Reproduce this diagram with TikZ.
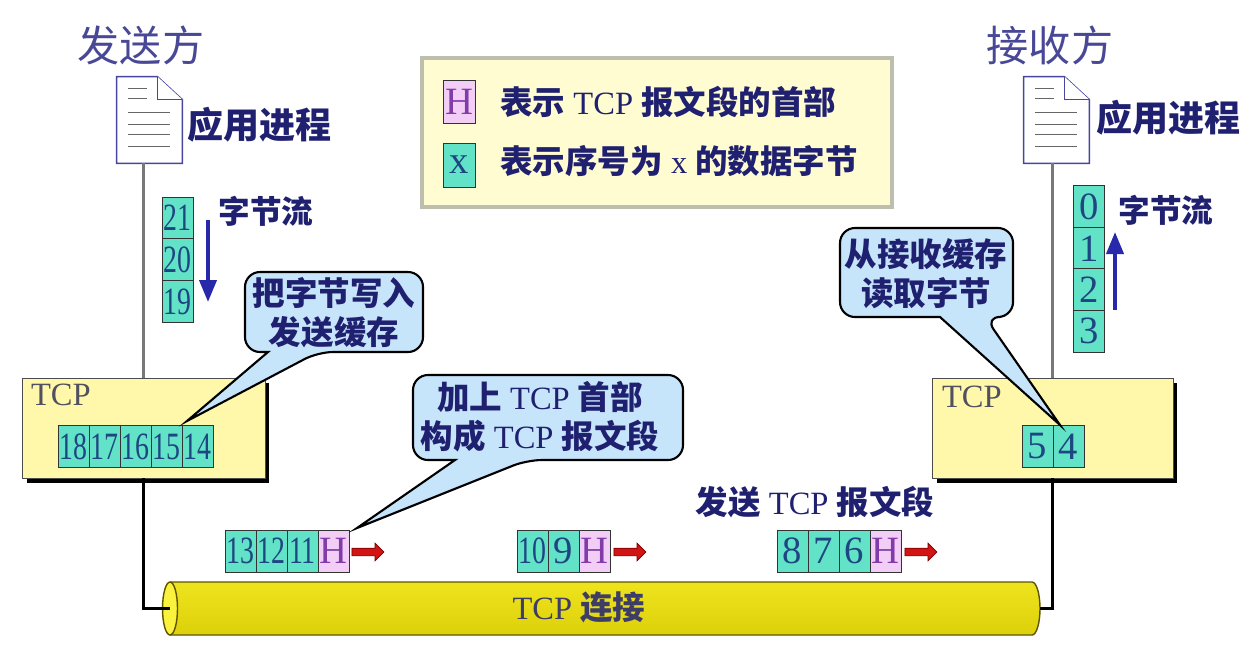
\documentclass[tikz,border=0pt]{standalone}
\usepackage{fontspec}
\usepackage{graphicx}
\setmainfont{Liberation Serif}
\newfontfamily\cjk{Noto Sans CJK SC}
\usepackage{tikz}
\usetikzlibrary{arrows.meta,shapes.arrows,shadows}
\definecolor{cellfill}{RGB}{98,226,198}
\definecolor{digit}{RGB}{30,70,130}
\definecolor{hfill}{RGB}{242,206,246}
\definecolor{hletter}{RGB}{130,60,170}
\definecolor{tcpfill}{RGB}{255,248,170}
\definecolor{legendfill}{RGB}{255,252,210}
\definecolor{legendframe}{RGB}{190,190,175}
\definecolor{bubblefill}{RGB}{198,228,250}
\definecolor{navy}{RGB}{32,32,112}
\definecolor{titlenavy}{RGB}{72,72,150}
\definecolor{tcpgray}{RGB}{80,80,96}
\definecolor{pipetop}{RGB}{238,228,30}
\definecolor{pipemid}{RGB}{255,252,90}
\definecolor{pipebot}{RGB}{220,208,10}
\definecolor{pipeend}{RGB}{250,242,60}
\definecolor{pipeedge}{RGB}{95,85,0}
\definecolor{arrowred}{RGB}{210,20,20}
\definecolor{arrowdark}{RGB}{120,0,0}
\definecolor{flowblue}{RGB}{40,40,170}
\definecolor{docedge}{RGB}{70,70,160}
\definecolor{stemgray}{RGB}{120,120,120}
\newcommand{\zh}[1]{{\cjk\bfseries #1}}
\newcommand{\sq}[1]{\scalebox{0.72}[1]{#1}}
\tikzset{
    Cell/.style = {draw=black!80, fill=cellfill, text=digit, inner sep=0pt,
        minimum width=0.62cm, minimum height=0.84cm, font=\fontsize{22}{24}\selectfont},
    HCell/.style = {Cell, fill=hfill, text=hletter},
    TcpBox/.style = {draw=black!70, fill=tcpfill, minimum height=2cm,
        drop shadow={shadow xshift=0.09cm, shadow yshift=-0.09cm, fill=black, opacity=1}},
    TcpTag/.style = {text=tcpgray, inner sep=0pt, anchor=north west, font=\fontsize{18.5}{20}\selectfont},
    Bubble/.style = {draw=black, line width=1.2pt, fill=bubblefill},
    BubbleText/.style = {text=navy, align=center, inner sep=0pt, font=\fontsize{18.5}{22}\selectfont},
    KeyText/.style = {text=navy, inner sep=0pt, anchor=west, font=\fontsize{18.5}{20}\selectfont},
    Title/.style = {text=titlenavy, font=\cjk\fontsize{24}{26}\selectfont},
    AppText/.style = {text=navy, inner sep=0pt, anchor=west, font=\cjk\bfseries\fontsize{20.5}{22}\selectfont},
    FlowText/.style = {text=navy, font=\cjk\bfseries\fontsize{18}{20}\selectfont},
    DocBox/.style = {inner sep=0pt, minimum width=1.3cm, minimum height=1.72cm},
    DocEdge/.style = {draw=docedge, line width=0.9pt, fill=white},
    DocRule/.style = {draw=black!60, line width=0.9pt},
    Stem/.style = {draw=stemgray, line width=1.2pt},
    Base/.style = {draw=black, line width=1.3pt},
    Flow/.style = {draw=flowblue, line width=2.2pt, -{Triangle[length=0.44cm,width=0.34cm]}},
    RedArrow/.style = {single arrow, draw=arrowdark, fill=arrowred, inner sep=0.07cm,
        single arrow head extend=0.1cm, minimum height=0.64cm},
    PipeEdge/.style = {draw=pipeedge, line width=0.8pt}
}

\begin{document}
\begin{tikzpicture}[x=0.02cm, y=-0.02cm]
        \useasboundingbox (0,0) rectangle (1256,650);
        % sender and receiver
        \node[Title] (sendTitle) at (141,45) {发送方};
        \node[Title] (recvTitle) at (1050,45) {接收方};
        \node[DocBox] (appS) at (149.5,120) {};
        \node[DocBox] (appR) at (1056.5,120) {};
        \foreach \D in {appS,appR}
            {\draw[DocEdge] (\D.south west) -- (\D.north west) -- ([xshift=-0.5cm]\D.north east)
                 -- ([yshift=-0.46cm]\D.north east) -- (\D.south east) -- cycle;
             \draw[DocEdge] ([xshift=-0.5cm]\D.north east) -- ([shift={(-0.5cm,-0.46cm)}]\D.north east)
                 -- ([yshift=-0.46cm]\D.north east);
             \foreach \Y/\L in {0.24/0.38,0.44/0.38,0.72/0.84,0.96/0.84,1.16/0.84,1.40/0.84}
                {\draw[DocRule] ([shift={(0.22cm,-\Y cm)}]\D.north west) -- ++(\L cm,0);}}
        \node[AppText] (appStext) at (187,125) {应用进程};
        \node[AppText] (appRtext) at (1096,118) {应用进程};
        % TCP buffers
        \node[TcpBox, minimum width=4.86cm] (tcpS) at (143.5,428) {};
        \node[TcpBox, minimum width=4.82cm] (tcpR) at (1052.5,428) {};
        \draw[Stem] (tcpS.north |- appS.south) -- (tcpS.north);
        \draw[Stem] (tcpR.north |- appR.south) -- (tcpR.north);
        \node[TcpTag] (tcpStag) at ([shift={(9,6)}]tcpS.north west) {TCP};
        \node[TcpTag] (tcpRtag) at ([shift={(10,8)}]tcpR.north west) {TCP};
        \foreach \n [count=\i from 0] in {18,17,16,15,14}
            {\node[Cell] (b\n) at (73.5+31*\i,446.5) {\sq{\n}};}
        \node[Cell] (b5) at (1037.5,446.5) {5};
        \node[Cell] (b4) at (1068.5,446.5) {4};
        % byte streams
        \foreach \n [count=\i from 0] in {21,20,19}
            {\node[Cell] (w\n) at (177.5,218+41.7*\i) {\sq{\n}};}
        \foreach \n in {0,1,2,3}
            {\node[Cell] (r\n) at (1089,206.75+41.5*\n) {\n};}
        \coordinate (flowS1) at (208,220);
        \coordinate (flowS2) at (208,302);
        \coordinate (flowR1) at (1115,310);
        \coordinate (flowR2) at (1115,232);
        \draw[Flow] (flowS1) -- (flowS2);
        \draw[Flow] (flowR1) -- (flowR2);
        \node[FlowText] (flowStext) at (266,211) {字节流};
        \node[FlowText] (flowRtext) at (1166,210) {字节流};
        % legend
        \node[draw=legendframe, line width=2pt, fill=legendfill, minimum width=9.4cm,
              minimum height=2.98cm] (legend) at (657,132.5) {};
        \node[HCell, minimum width=0.64cm, minimum height=0.86cm] (keyH) at (459,101.5) {H};
        \node[Cell, minimum width=0.64cm, minimum height=0.88cm] (keyX) at (459,165) {x};
        \node[KeyText] (keyHtext) at (500,102) {\zh{表示} TCP \zh{报文段的首部}};
        \node[KeyText] (keyXtext) at (500,161) {\zh{表示序号为} x \zh{的数据字节}};
        % segments
        \foreach \n [count=\i from 0] in {13,12,11}
            {\node[Cell] (s\n) at (240.5+31*\i,551) {\sq{\n}};}
        \node[HCell] (hA) at (333.5,551) {H};
        \node[RedArrow] (goA) at (366,552) {};
        \node[Cell] (s10) at (532.5,551) {\sq{10}};
        \node[Cell] (s9) at (563.5,551) {9};
        \node[HCell] (hB) at (594.5,551) {H};
        \node[RedArrow] (goB) at (628,552) {};
        \foreach \n [count=\i from 0] in {8,7,6}
            {\node[Cell] (s\n) at (792.5+31*\i,551) {\n};}
        \node[HCell] (hC) at (885.5,551) {H};
        \node[RedArrow] (goC) at (919,552) {};
        \node[FlowText, font=\fontsize{18.5}{20}\selectfont] (sendText) at (815,502) {\zh{发送} TCP \zh{报文段}};
        % connection
        \coordinate (pipeL) at (170,608.5);
        \coordinate (pipeR) at (1040,608.5);
        \shade[top color=pipetop, middle color=pipemid, bottom color=pipebot]
            (170,582) -- (1032,582) arc[start angle=90, end angle=-90, x radius=0.16cm, y radius=0.53cm]
            -- (170,635) -- cycle;
        \draw[PipeEdge] (170,635) -- (1032,635)
            arc[start angle=-90, end angle=90, x radius=0.16cm, y radius=0.53cm] -- (170,582);
        \draw[PipeEdge, fill=pipeend] (170,608.5) ellipse[x radius=0.15cm, y radius=0.53cm];
        \draw[Base] (tcpS.south) |- (pipeL);
        \draw[Base] (tcpR.south) |- (pipeR);
        \node[FlowText, text=tcpgray!60!navy, font=\fontsize{18.5}{20}\selectfont] (link) at (579,607) {TCP \zh{连接}};
        % callouts
        \draw[Bubble] (318,352) -- (187,421) -- (268,352) [rounded corners=0.3cm]
            -- (245,352) -- (245,272) -- (423,272) -- (423,352) -- cycle;
        \node[BubbleText] (noteWrite) at (334,313) {\zh{把字节写入}\\\zh{发送缓存}};
        \draw[Bubble] (527,460) -- (357,528) -- (455,460) [rounded corners=0.3cm]
            -- (413,460) -- (413,375) -- (683,375) -- (683,460) -- cycle;
        \node[BubbleText] (noteHead) at (540,416.5) {\zh{加上} TCP \zh{首部}\\\zh{构成} TCP \zh{报文段}};
        \draw[Bubble] (985,317) -- (1060,425) -- (940,317) [rounded corners=0.3cm]
            -- (840,317) -- (840,228) -- (1013,228) -- (1013,317) -- cycle;
        \node[BubbleText] (noteRead) at (926,273.5) {\zh{从接收缓存}\\\zh{读取字节}};
\end{tikzpicture}
\end{document}
